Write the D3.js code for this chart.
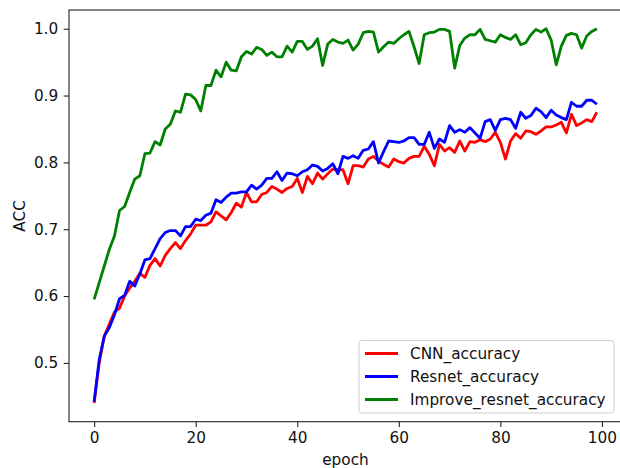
<!DOCTYPE html>
<html>
<head>
<meta charset="utf-8">
<script src="https://cdn.jsdelivr.net/npm/d3@7/dist/d3.min.js"></script>
<style>
  html, body { margin: 0; padding: 0; background: #fff; }
  svg { display: block; }
  text { font-family: "DejaVu Sans", sans-serif; }
</style>
</head>
<body>
<svg id="chart" width="620" height="468"></svg>
<script>
// Accuracy per epoch for three models
const cnnAccuracy = [
  0.440, 0.500, 0.540, 0.558, 0.576, 0.582, 0.600, 0.612, 0.622, 0.634,
  0.628, 0.646, 0.656, 0.645, 0.661, 0.671, 0.680, 0.671, 0.683, 0.693,
  0.706, 0.706, 0.706, 0.711, 0.726, 0.720, 0.714, 0.725, 0.739, 0.733,
  0.755, 0.741, 0.741, 0.752, 0.755, 0.764, 0.760, 0.755, 0.761, 0.764,
  0.776, 0.755, 0.779, 0.768, 0.784, 0.775, 0.783, 0.790, 0.789, 0.789,
  0.768, 0.795, 0.795, 0.793, 0.805, 0.809, 0.802, 0.797, 0.793, 0.805,
  0.801, 0.799, 0.806, 0.809, 0.809, 0.824, 0.812, 0.795, 0.827, 0.817,
  0.822, 0.815, 0.832, 0.817, 0.831, 0.830, 0.834, 0.831, 0.835, 0.845,
  0.830, 0.805, 0.832, 0.843, 0.836, 0.847, 0.846, 0.842, 0.847, 0.853,
  0.853, 0.856, 0.860, 0.844, 0.872, 0.855, 0.859, 0.864, 0.861, 0.875
];
const resnetAccuracy = [
  0.442, 0.505, 0.540, 0.553, 0.572, 0.596, 0.601, 0.622, 0.615, 0.633,
  0.654, 0.656, 0.671, 0.686, 0.695, 0.698, 0.698, 0.690, 0.704, 0.704,
  0.715, 0.713, 0.721, 0.724, 0.744, 0.740, 0.748, 0.754, 0.754, 0.756,
  0.756, 0.766, 0.760, 0.766, 0.776, 0.776, 0.786, 0.773, 0.784, 0.783,
  0.780, 0.786, 0.789, 0.796, 0.794, 0.787, 0.791, 0.798, 0.783, 0.809,
  0.806, 0.810, 0.806, 0.818, 0.820, 0.831, 0.799, 0.816, 0.832, 0.831,
  0.830, 0.832, 0.837, 0.837, 0.827, 0.827, 0.845, 0.821, 0.835, 0.830,
  0.855, 0.845, 0.849, 0.845, 0.852, 0.844, 0.836, 0.861, 0.864, 0.848,
  0.864, 0.866, 0.864, 0.851, 0.875, 0.866, 0.870, 0.881, 0.876, 0.867,
  0.878, 0.871, 0.867, 0.864, 0.890, 0.884, 0.884, 0.893, 0.893, 0.887
];
const improveResnetAccuracy = [
  0.595, 0.620, 0.645, 0.670, 0.690, 0.728, 0.734, 0.755, 0.775, 0.780,
  0.813, 0.814, 0.831, 0.826, 0.850, 0.857, 0.877, 0.875, 0.902, 0.901,
  0.894, 0.877, 0.915, 0.915, 0.938, 0.928, 0.950, 0.938, 0.937, 0.958,
  0.966, 0.962, 0.972, 0.969, 0.960, 0.965, 0.958, 0.958, 0.974, 0.965,
  0.981, 0.981, 0.969, 0.974, 0.985, 0.945, 0.977, 0.984, 0.980, 0.978,
  0.983, 0.968, 0.977, 0.994, 0.996, 0.995, 0.965, 0.973, 0.980, 0.978,
  0.985, 0.991, 0.996, 0.973, 0.948, 0.991, 0.994, 0.995, 0.999, 0.999,
  0.996, 0.941, 0.975, 0.986, 0.991, 0.991, 0.999, 0.984, 0.982, 0.980,
  0.991, 0.987, 0.984, 0.991, 0.976, 0.979, 0.991, 0.999, 0.995, 1.000,
  0.983, 0.946, 0.974, 0.990, 0.993, 0.991, 0.971, 0.989, 0.996, 1.000
];
const seriesNames = ["CNN_accuracy", "Resnet_accuracy", "Improve_resnet_accuracy"];
const seriesColors = ["#ff0000", "#0000ff", "#008000"];
const xTicks = [0, 20, 40, 60, 80, 100];
const yTicks = [0.5, 0.6, 0.7, 0.8, 0.9, 1.0];

const allSeries = [cnnAccuracy, resnetAccuracy, improveResnetAccuracy];
const fontSize = "15.3px";

const svg = d3.select("#chart");
const plot = { left: 69, right: 622, top: 10, bottom: 421.7 };

// Domains padded by 5% of the data range on each side
const n = cnnAccuracy.length;
const xPad = (n - 1) * 0.05;
const x = d3.scaleLinear().domain([-xPad, n - 1 + xPad]).range([plot.left, plot.right]);
const yMin = d3.min(allSeries, s => d3.min(s));
const yMax = d3.max(allSeries, s => d3.max(s));
const yPad = (yMax - yMin) * 0.05;
const y = d3.scaleLinear().domain([yMin - yPad, yMax + yPad]).range([plot.bottom, plot.top]);

// Lines
const line = d3.line().x((d, i) => x(i)).y(d => y(d));
allSeries.forEach((s, k) => {
  svg.append("path")
    .datum(s)
    .attr("fill", "none")
    .attr("stroke", seriesColors[k])
    .attr("stroke-width", 2.8)
    .attr("stroke-linejoin", "round")
    .attr("stroke-linecap", "butt")
    .attr("d", line);
});

// Axes
const xAxis = d3.axisBottom(x).tickValues(xTicks).tickFormat(d3.format("d"))
  .tickSizeInner(5.3).tickSizeOuter(0).tickPadding(5.3);
const yAxis = d3.axisLeft(y).tickValues(yTicks).tickFormat(d3.format(".1f"))
  .tickSizeInner(5.3).tickSizeOuter(0).tickPadding(5.5);

const gx = svg.append("g").attr("transform", `translate(0,${plot.bottom})`).call(xAxis);
const gy = svg.append("g").attr("transform", `translate(${plot.left},0)`).call(yAxis);
[gx, gy].forEach(g => {
  g.select(".domain").remove();
  g.selectAll(".tick line").attr("stroke", "#222").attr("stroke-width", 1.1);
  g.selectAll(".tick text").attr("fill", "#111").style("font-size", fontSize);
});

// Spines
svg.append("rect")
  .attr("x", plot.left).attr("y", plot.top)
  .attr("width", plot.right - plot.left).attr("height", plot.bottom - plot.top)
  .attr("fill", "none").attr("stroke", "#222").attr("stroke-width", 1.1);

// Axis titles
svg.append("text")
  .attr("x", (plot.left + plot.right) / 2).attr("y", 465)
  .attr("text-anchor", "middle").style("font-size", fontSize).attr("fill", "#111")
  .text("epoch");
svg.append("text")
  .attr("transform", `translate(25,${(plot.top + plot.bottom) / 2}) rotate(-90)`)
  .attr("text-anchor", "middle").style("font-size", fontSize).attr("fill", "#111")
  .text("ACC");

// Legend
const legend = svg.append("g");
const lg = { x: 359, y: 340.5, w: 255, h: 72.5 };
legend.append("rect")
  .attr("x", lg.x).attr("y", lg.y).attr("width", lg.w).attr("height", lg.h)
  .attr("rx", 3).attr("fill", "#fff").attr("fill-opacity", 0.8)
  .attr("stroke", "#d0d0d0").attr("stroke-width", 1);
seriesNames.forEach((name, k) => {
  const cy = lg.y + 13 + k * 23;
  legend.append("line")
    .attr("x1", lg.x + 6).attr("x2", lg.x + 39)
    .attr("y1", cy).attr("y2", cy)
    .attr("stroke", seriesColors[k]).attr("stroke-width", 2.8);
  legend.append("text")
    .attr("x", lg.x + 51).attr("y", cy).attr("dy", "0.35em")
    .style("font-size", fontSize).attr("fill", "#111")
    .text(name);
});
</script>
</body>
</html>
